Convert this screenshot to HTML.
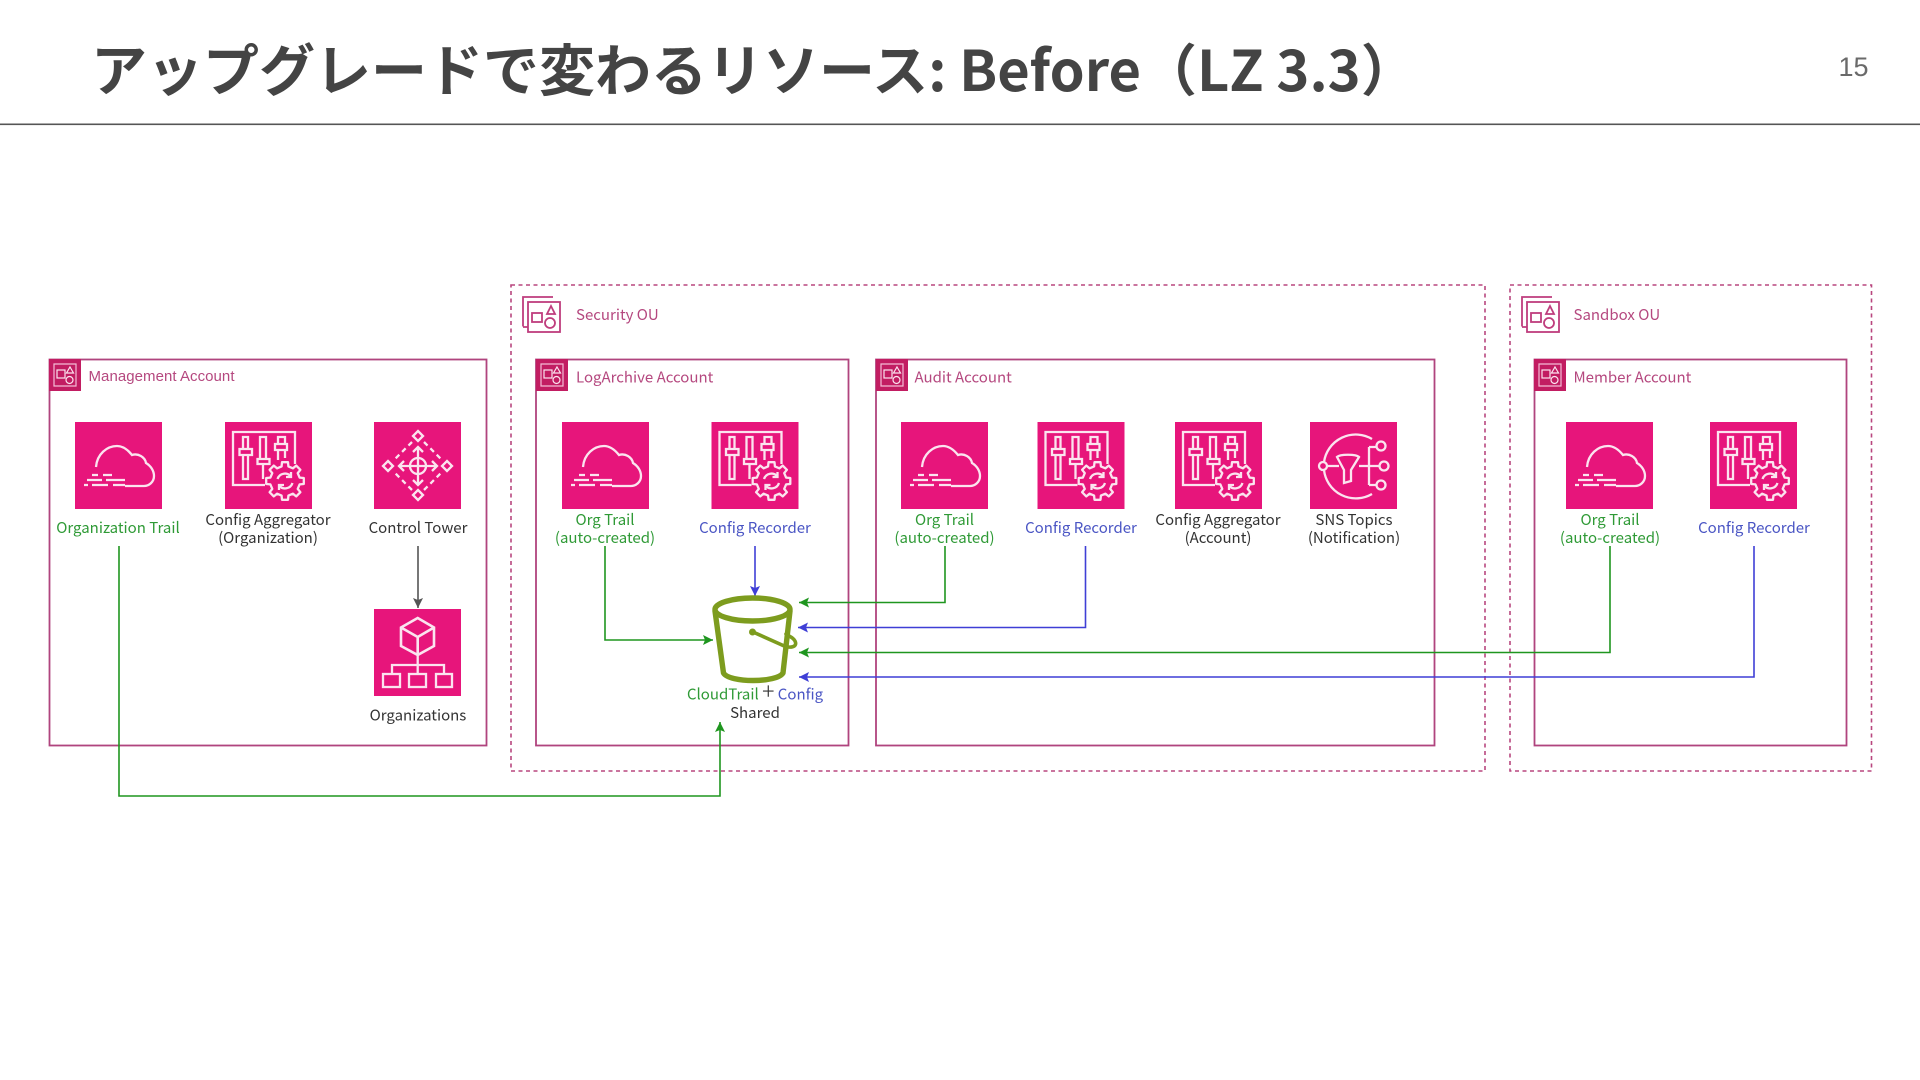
<!DOCTYPE html>
<html lang="ja"><head><meta charset="utf-8"><title>Before</title>
<style>
html,body{margin:0;padding:0;background:#fff;width:1920px;height:1080px;overflow:hidden}
svg{display:block;filter:blur(0.35px)}
text{font-family:"Noto Sans CJK JP","Liberation Sans",sans-serif}
.l{font-size:15px;text-anchor:middle;fill:#333}
.g{fill:#2f9a36}.b{fill:#4a55c4}
.h{font-size:15px;fill:#b5487f}
.ic *{fill:none;stroke:#fbe4ef;stroke-width:2.3}
.box{fill:none;stroke:#b0447e;stroke-width:1.8}
.ou{fill:none;stroke:#b8477f;stroke-width:1.6;stroke-dasharray:4 3.5}
.gl{fill:none;stroke:#1f961f;stroke-width:1.6}
.bl{fill:none;stroke:#3f3fd6;stroke-width:1.6}
</style></head><body>
<svg width="1920" height="1080" viewBox="0 0 1920 1080" xmlns="http://www.w3.org/2000/svg">
<defs>
<g id="trail"><rect width="87" height="87" fill="#e7157b"/><g class="ic">
<path d="M21,45C22,32 32,24 42,24C48,24 53,28 57,33C63,31 70,35 71,41C76,44 79,49 79,54C79,60 74,64 69,64L50,64"/>
<path d="M17,53H23M28,53H37M12,58H27M31,58H50M9,63H13M17,63H33M38,63H50"/></g></g>
<g id="config"><rect width="87" height="87" fill="#e7157b"/><g class="ic">
<path d="M40,63H8V10H70V42"/>
<path d="M18,27V15H23V27M18,33V57H23V33M14.5,27H27V33H14.5Z"/>
<path d="M35,37V15H41V37M38,42V57M32.5,37H44.5V42H32.5Z"/>
<path d="M53,22V15H60V22M50,22H62V28H50ZM53,28V38M60,28V36"/></g>
<path transform="translate(60,59)" fill="#e7157b" stroke="#fbe4ef" stroke-width="2.3" stroke-linejoin="round" d="M14.6,-3.4L18.8,-3L18.8,3L14.6,3.4L12.7,7.9L15.4,11.2L11.2,15.4L7.9,12.7L3.4,14.6L3,18.8L-3,18.8L-3.4,14.6L-7.9,12.7L-11.2,15.4L-15.4,11.2L-12.7,7.9L-14.6,3.4L-18.8,3L-18.8,-3L-14.6,-3.4L-12.7,-7.9L-15.4,-11.2L-11.2,-15.4L-7.9,-12.7L-3.4,-14.6L-3,-18.8L3,-18.8L3.4,-14.6L7.9,-12.7L11.2,-15.4L15.4,-11.2L12.7,-7.9Z"/>
<g class="ic"><path d="M52.500,57A7.8,7.8 0 0 1 66,54.500M67.500,61A7.8,7.8 0 0 1 54,63.500M66,50V55H61M54,68V63H59"/></g></g>
<g id="tower"><rect width="87" height="87" fill="#e7157b"/><g class="ic">
<path d="M44,9L49,14L44,19L39,14ZM14,39L19,44L14,49L9,44ZM73,39L78,44L73,49L68,44ZM44,68L49,73L44,78L39,73Z"/>
<path stroke-dasharray="5 4" d="M38,20L20,38M50,20L68,38M38,68L20,50M50,68L68,50"/>
<circle cx="44" cy="44" r="8"/>
<path d="M44,25V63M25,44H63M39,30L44,25L49,30M39,58L44,63L49,58M30,39L25,44L30,49M58,39L63,44L58,49"/></g></g>
<g id="orgs"><rect width="87" height="87" fill="#e7157b"/><g class="ic" >
<path style="stroke-width:2.6" d="M43.7,9L60,18.5V37L43.7,46L27,37V18.5ZM27,18.5L43.7,28L60,18.5M43.7,28V46"/>
<path d="M43.7,46V65M18,65V56H70V65"/>
<rect x="9" y="65" width="17" height="13"/><rect x="35" y="65" width="17" height="13"/><rect x="62" y="65" width="16" height="13"/></g></g>
<g id="sns"><rect width="87" height="87" fill="#e7157b"/><g class="ic">
<path d="M62,17A32,32 0 0 0 14,40M14,48A32,32 0 0 0 62,72"/>
<circle cx="13" cy="44" r="4"/><path d="M17,44H29M49,44H70M59,25V63M59,25H67M59,63H67"/>
<circle cx="71" cy="24" r="4.5"/><circle cx="74" cy="44" r="4.5"/><circle cx="71" cy="63" r="4.5"/>
<path d="M27,35C30,32 46,32 49,35L41,48V59L34,61V48Z"/></g></g>
<g id="acct"><rect width="32" height="32" fill="#c21d62"/>
<path d="M5,5H27V27H5Z" fill="none" stroke="#f4bcd6" stroke-width="1.2"/>
<g fill="none" stroke="#fbe4ef" stroke-width="1.2"><rect x="8" y="11" width="8" height="8"/><path d="M21,8L24.5,14H17.5Z"/><circle cx="20.5" cy="21" r="3.5"/></g></g>
<g id="ou" fill="none" stroke="#bf3d7d" stroke-width="1.8"><rect x="5" y="5" width="32" height="30"/><path d="M30,0H0V29.500M0,30H5"/><rect x="9" y="16" width="10" height="9"/><path d="M28,9L32,17H24Z"/><circle cx="27" cy="26" r="5"/></g>
<marker id="ag" viewBox="0 0 10 10" refX="10" refY="5" markerWidth="10" markerHeight="10" markerUnits="userSpaceOnUse" orient="auto"><path d="M0,0L10,5L0,10L2,5Z" fill="#1f961f"/></marker>
<marker id="ab" viewBox="0 0 10 10" refX="10" refY="5" markerWidth="10" markerHeight="10" markerUnits="userSpaceOnUse" orient="auto"><path d="M0,0L10,5L0,10L2,5Z" fill="#3f3fd6"/></marker>
<marker id="ak" viewBox="0 0 10 10" refX="10" refY="5" markerWidth="10" markerHeight="10" markerUnits="userSpaceOnUse" orient="auto"><path d="M0,0L10,5L0,10L2,5Z" fill="#555"/></marker>
</defs>

<text x="91" y="91" font-weight="700" fill="#444" style="font-size:56px">アップグレードで変わるリソース: Before（LZ 3.3）</text>
<text x="1853.500" y="76" text-anchor="middle" fill="#6a6a6a" style="font-family:'Liberation Sans',sans-serif;font-size:27px">15</text>
<rect x="0" y="123.500" width="1920" height="1.600" fill="#555"/>

<rect class="ou" x="511" y="285" width="974" height="486"/>
<rect class="ou" x="1510" y="285" width="361.500" height="486"/>
<use href="#ou" x="523" y="297"/><use href="#ou" x="1522" y="297"/>
<text class="h" x="576" y="320">Security OU</text>
<text class="h" x="1573.500" y="320">Sandbox OU</text>

<rect class="box" x="49.500" y="359.500" width="437" height="386"/>
<rect class="box" x="536" y="359.500" width="312.500" height="386"/>
<rect class="box" x="876" y="359.500" width="558.500" height="386"/>
<rect class="box" x="1534.500" y="359.500" width="312" height="386"/>
<use href="#acct" x="49" y="359"/><use href="#acct" x="536" y="359"/><use href="#acct" x="876" y="359"/><use href="#acct" x="1534" y="359"/>
<text class="h" x="88.500" y="381" textLength="146" style="font-family:'Liberation Sans',sans-serif">Management Account</text>
<text class="h" x="576" y="382.500">LogArchive Account</text>
<text class="h" x="914.500" y="382.500">Audit Account</text>
<text class="h" x="1573.500" y="382.500">Member Account</text>

<use href="#trail" x="75" y="422"/><use href="#config" x="225" y="422"/><use href="#tower" x="374" y="422"/><use href="#orgs" x="374" y="609"/>
<use href="#trail" x="562" y="422"/><use href="#config" x="711.500" y="422"/>
<use href="#trail" x="901" y="422"/><use href="#config" x="1037.500" y="422"/><use href="#config" x="1175" y="422"/><use href="#sns" x="1310" y="422"/>
<use href="#trail" x="1566" y="422"/><use href="#config" x="1710" y="422"/>

<text class="l g" x="118" y="533">Organization Trail</text>
<text class="l" x="268" y="525">Config Aggregator</text><text class="l" x="268" y="543">(Organization)</text>
<text class="l" x="418" y="533">Control Tower</text>
<text class="l" x="418" y="720.500">Organizations</text>
<text class="l g" x="605" y="525">Org Trail</text><text class="l g" x="605" y="543">(auto-created)</text>
<text class="l b" x="755" y="533">Config Recorder</text>
<text class="l g" x="944.500" y="525">Org Trail</text><text class="l g" x="944.500" y="543">(auto-created)</text>
<text class="l b" x="1081" y="533">Config Recorder</text>
<text class="l" x="1218" y="525">Config Aggregator</text><text class="l" x="1218" y="543">(Account)</text>
<text class="l" x="1354" y="525">SNS Topics</text><text class="l" x="1354" y="543">(Notification)</text>
<text class="l g" x="1610" y="525">Org Trail</text><text class="l g" x="1610" y="543">(auto-created)</text>
<text class="l b" x="1754" y="533">Config Recorder</text>
<text class="l" x="755" y="699.500"><tspan class="g">CloudTrail</tspan> <tspan style="font-size:23px;font-weight:300">+</tspan> <tspan class="b">Config</tspan></text>
<text class="l" x="755" y="718">Shared</text>

<path d="M418,546V608" fill="none" stroke="#555" stroke-width="1.6" marker-end="url(#ak)"/>
<path class="gl" d="M119,546V796H720V722" marker-end="url(#ag)"/>
<path class="gl" d="M605,546V640H713" marker-end="url(#ag)"/>
<path class="bl" d="M755,546V596" marker-end="url(#ab)"/>
<path class="gl" d="M945,546V602.500H799" marker-end="url(#ag)"/>
<path class="bl" d="M1085.500,546V627.500H798" marker-end="url(#ab)"/>
<path class="gl" d="M1610,546V652.500H799" marker-end="url(#ag)"/>
<path class="bl" d="M1754,546V677H799" marker-end="url(#ab)"/>

<g fill="none" stroke="#7d9c1e" stroke-width="5.400" stroke-linejoin="round" stroke-linecap="round">
<ellipse cx="752.500" cy="609.500" rx="37.500" ry="11.500"/>
<path d="M715,611L723.500,673C729,683 777,683 783,673L790,611" />
<path stroke-width="3.600" d="M753,632L782,645C790,649 798,647 795,641C793,637 788,636 786,634"/>
</g>
<circle cx="752.500" cy="632" r="3.500" fill="#7d9c1e"/>
</svg>
</body></html>
